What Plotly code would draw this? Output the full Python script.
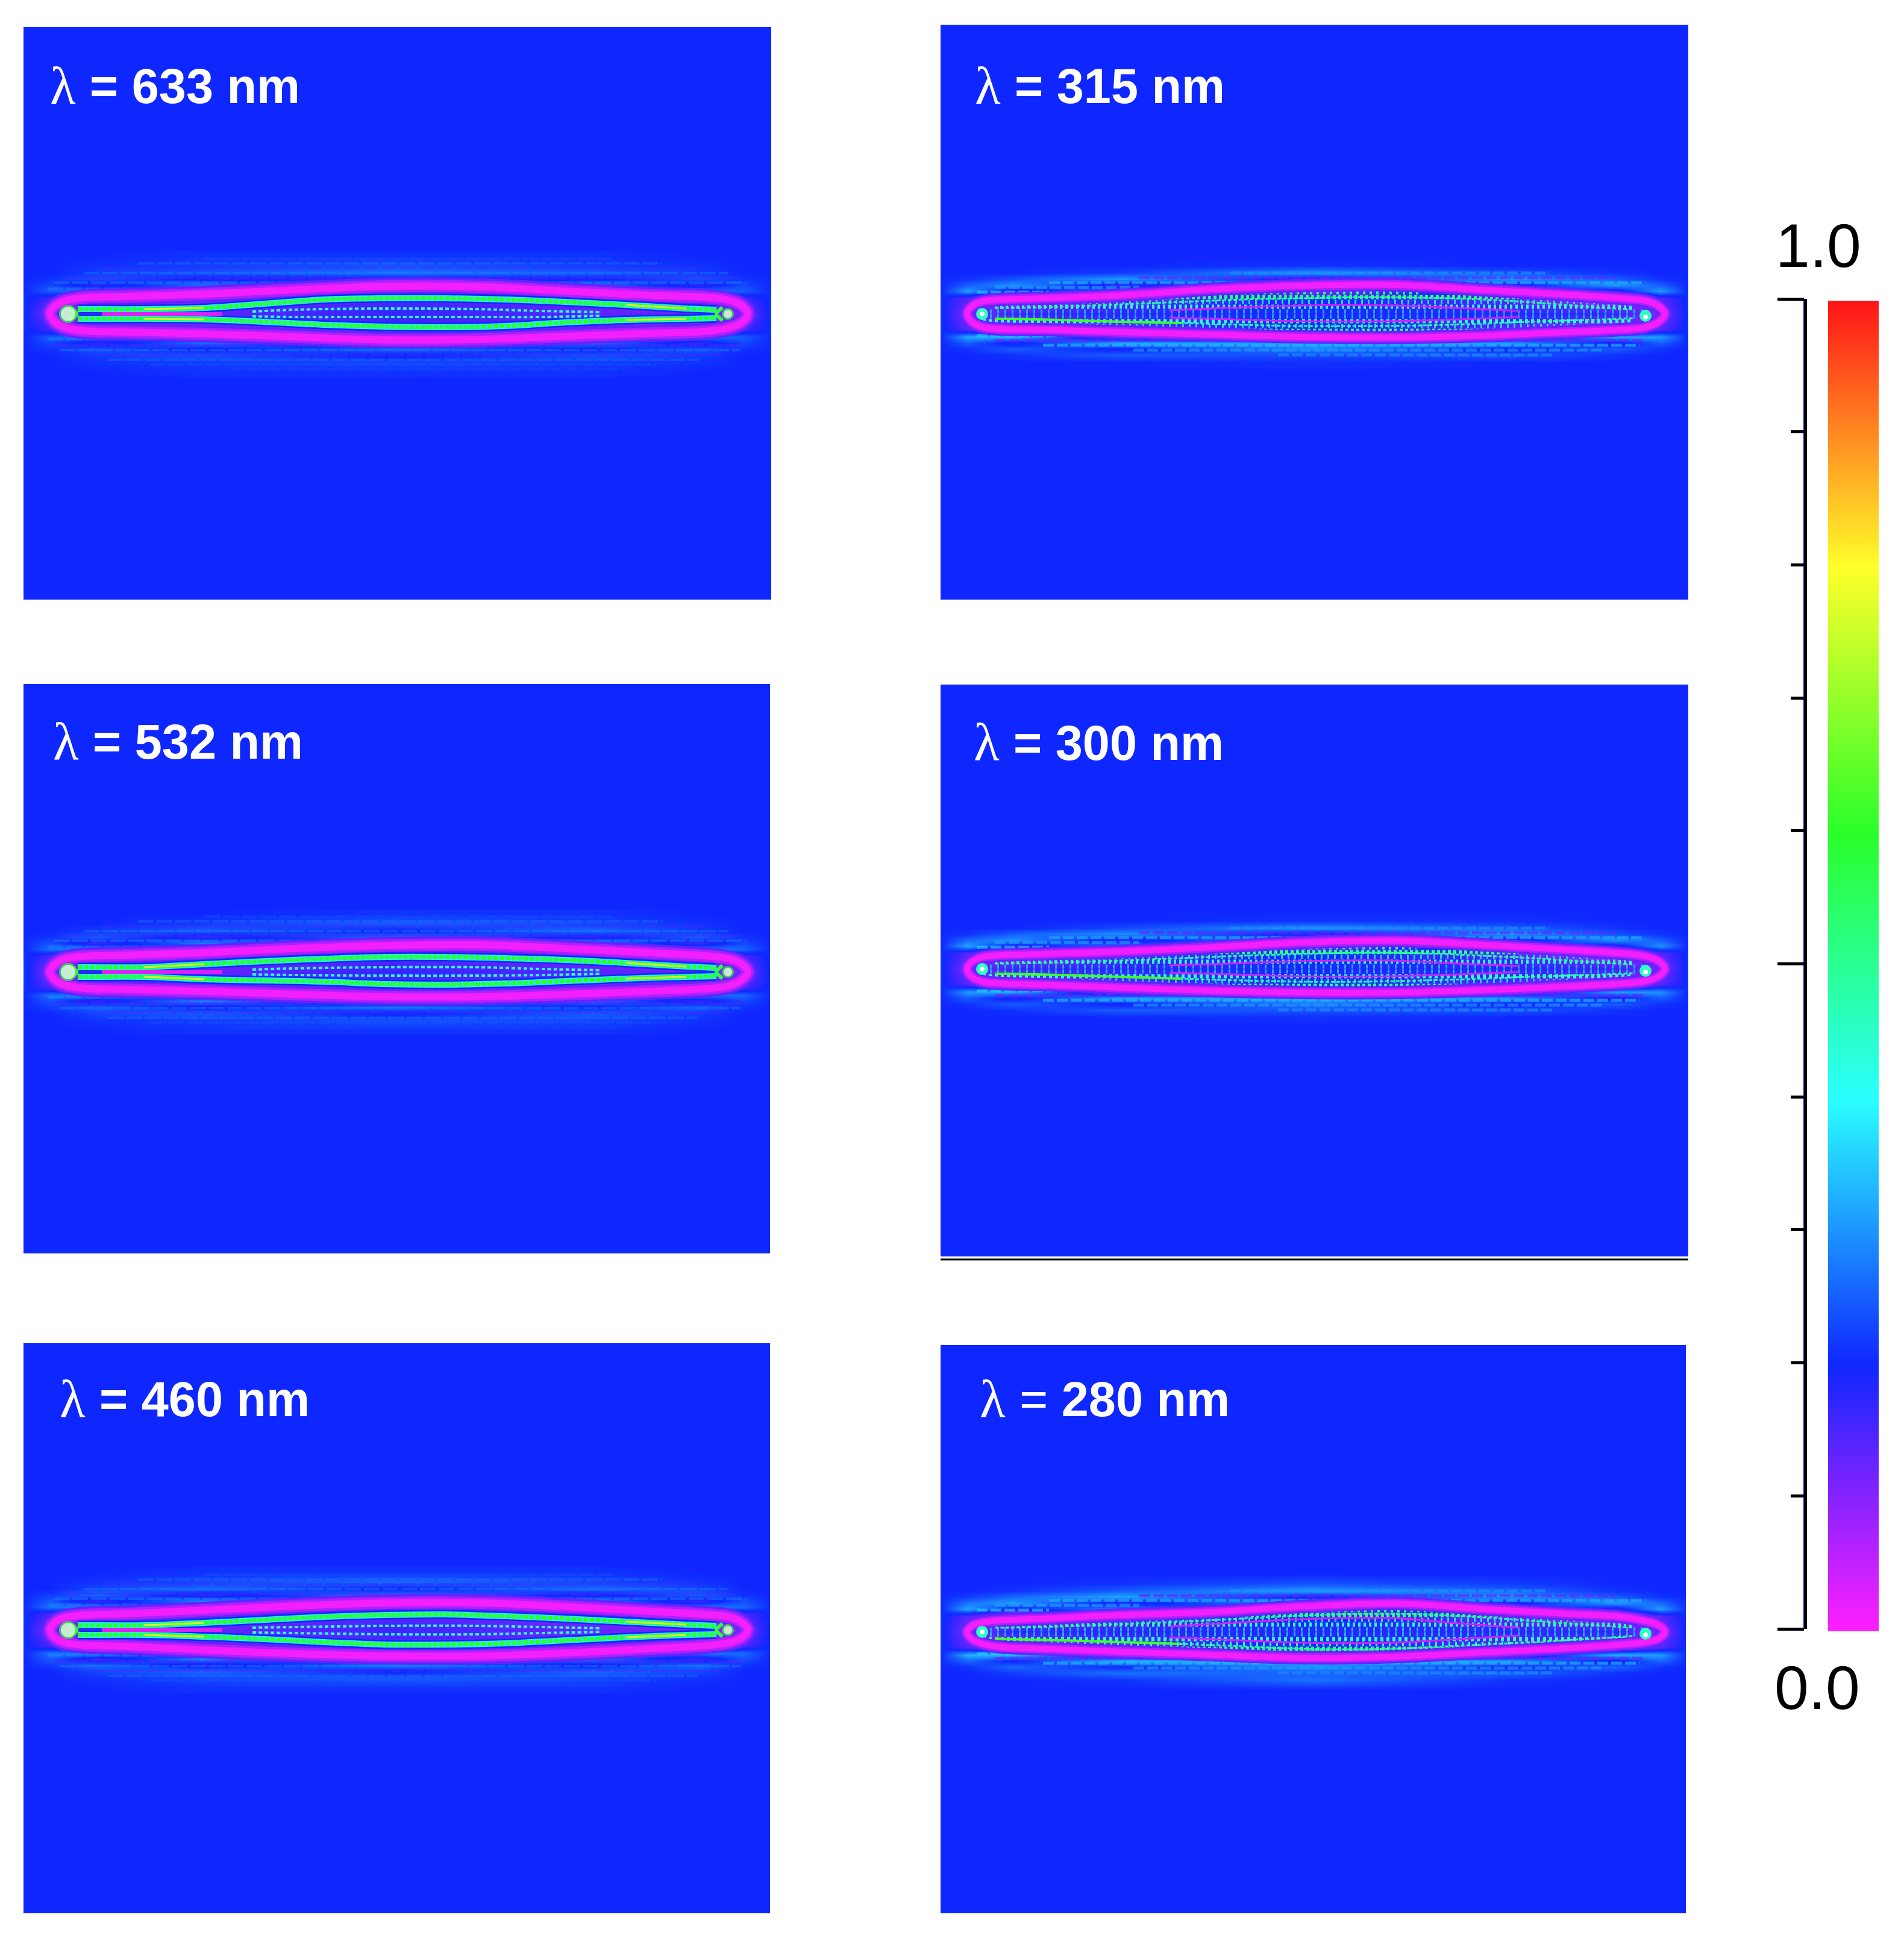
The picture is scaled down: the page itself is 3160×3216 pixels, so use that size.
import plotly.graph_objects as go
from plotly.colors import sample_colorscale

W, H = 3160, 3216

# colour scale
rainbow = [[0.0, 'rgb(255,31,255)'], [0.2, 'rgb(15,39,255)'], [0.4, 'rgb(42,255,255)'],
           [0.6, 'rgb(42,255,42)'], [0.8, 'rgb(255,255,42)'], [1.0, 'rgb(255,20,24)']]
bar_levels = [0.0, 0.1, 0.2, 0.3, 0.4, 0.5, 0.6, 0.7, 0.8, 0.9, 1.0]
bar_minor = [0.1, 0.2, 0.3, 0.4, 0.6, 0.7, 0.8, 0.9]
bar_major = [0.0, 0.5, 1.0]

# background field, rows run top to bottom
haze_x = [0, 45, 120, 300, 620, 940, 1120, 1195, 1241]
haze_y = [96, 80, 68, 58, 48, 38, 26, 0, -26, -38, -48, -58, -68, -80, -96]

haze_633 = [[.20, .20, .20, .21, .21, .21, .20, .20, .20],
            [.20, .20, .21, .22, .24, .22, .21, .20, .20],
            [.20, .20, .22, .24, .27, .25, .22, .20, .20],
            [.20, .21, .24, .19, .18, .19, .24, .21, .20],
            [.20, .23, .17, .27, .10, .27, .17, .23, .20],
            [.20, .25, .27, .12, .10, .12, .27, .25, .20],
            [.21, .16, .06, .10, .15, .12, .06, .16, .21],
            [.21, .10, .12, .14, .17, .14, .12, .10, .21],
            [.21, .16, .06, .10, .15, .12, .06, .16, .21],
            [.20, .25, .27, .13, .10, .13, .27, .25, .20],
            [.20, .23, .17, .27, .11, .27, .17, .23, .20],
            [.20, .21, .24, .19, .26, .19, .24, .21, .20],
            [.20, .20, .22, .24, .19, .24, .22, .20, .20],
            [.20, .20, .21, .22, .23, .22, .21, .20, .20],
            [.20, .20, .20, .21, .21, .21, .20, .20, .20]]
haze_532 = [[.20, .20, .20, .20, .21, .21, .20, .20, .20],
            [.20, .20, .20, .22, .25, .23, .21, .20, .20],
            [.20, .20, .22, .25, .19, .26, .22, .20, .20],
            [.20, .21, .25, .17, .27, .18, .25, .21, .20],
            [.20, .24, .16, .28, .09, .28, .16, .23, .20],
            [.20, .27, .28, .11, .09, .12, .28, .26, .20],
            [.21, .15, .05, .10, .14, .11, .06, .15, .21],
            [.22, .09, .12, .13, .17, .14, .12, .10, .21],
            [.21, .15, .05, .10, .14, .11, .06, .15, .21],
            [.20, .27, .28, .12, .09, .13, .27, .26, .20],
            [.20, .24, .17, .29, .10, .27, .17, .23, .20],
            [.20, .22, .25, .18, .27, .19, .25, .21, .20],
            [.20, .20, .23, .25, .19, .25, .22, .20, .20],
            [.20, .20, .21, .22, .24, .23, .21, .20, .20],
            [.20, .20, .20, .21, .21, .21, .20, .20, .20]]
haze_460 = [[.20, .20, .20, .21, .21, .21, .20, .20, .20],
            [.20, .20, .21, .23, .26, .23, .21, .20, .20],
            [.20, .20, .23, .26, .19, .26, .23, .20, .20],
            [.20, .22, .26, .17, .28, .18, .25, .21, .20],
            [.20, .25, .16, .29, .09, .28, .16, .24, .20],
            [.20, .27, .28, .11, .09, .11, .28, .26, .20],
            [.21, .15, .05, .10, .14, .10, .05, .15, .21],
            [.21, .09, .11, .13, .16, .13, .11, .09, .21],
            [.21, .15, .05, .10, .14, .10, .05, .15, .21],
            [.20, .27, .28, .11, .09, .12, .28, .26, .20],
            [.20, .25, .16, .29, .09, .28, .16, .24, .20],
            [.20, .22, .26, .17, .28, .18, .26, .21, .20],
            [.20, .20, .23, .26, .19, .26, .23, .20, .20],
            [.20, .20, .21, .23, .25, .23, .21, .20, .20],
            [.20, .20, .20, .21, .21, .21, .20, .20, .20]]
haze_315 = [[.20, .20, .20, .20, .20, .20, .20, .20, .20],
            [.20, .20, .20, .20, .21, .20, .20, .20, .20],
            [.20, .20, .20, .22, .30, .24, .21, .20, .20],
            [.20, .21, .24, .31, .17, .31, .25, .21, .20],
            [.20, .25, .30, .16, .30, .17, .31, .25, .20],
            [.20, .31, .16, .28, .09, .27, .17, .31, .20],
            [.21, .14, .05, .12, .20, .13, .05, .14, .21],
            [.21, .10, .17, .18, .19, .18, .17, .10, .21],
            [.21, .14, .05, .12, .20, .13, .05, .14, .21],
            [.20, .32, .33, .10, .09, .11, .32, .31, .20],
            [.20, .25, .18, .32, .30, .31, .18, .25, .20],
            [.20, .21, .25, .19, .29, .19, .25, .21, .20],
            [.20, .20, .21, .25, .23, .25, .21, .20, .20],
            [.20, .20, .20, .20, .21, .20, .20, .20, .20],
            [.20, .20, .20, .20, .20, .20, .20, .20, .20]]
haze_300 = [[.20, .20, .20, .20, .20, .20, .20, .20, .20],
            [.20, .20, .20, .20, .21, .21, .20, .20, .20],
            [.20, .20, .20, .23, .30, .25, .21, .20, .20],
            [.20, .21, .25, .30, .17, .31, .24, .21, .20],
            [.20, .26, .30, .17, .31, .16, .30, .25, .20],
            [.20, .32, .17, .28, .09, .28, .17, .30, .20],
            [.21, .14, .05, .13, .20, .14, .05, .14, .21],
            [.21, .10, .17, .18, .19, .18, .17, .10, .21],
            [.21, .14, .05, .13, .20, .14, .05, .14, .21],
            [.20, .31, .32, .10, .09, .11, .31, .30, .20],
            [.20, .25, .18, .31, .30, .30, .18, .25, .20],
            [.20, .21, .25, .19, .28, .19, .25, .21, .20],
            [.20, .20, .21, .25, .24, .24, .21, .20, .20],
            [.20, .20, .20, .20, .21, .20, .20, .20, .20],
            [.20, .20, .20, .20, .20, .20, .20, .20, .20]]
haze_280 = [[.20, .20, .20, .20, .20, .20, .20, .20, .20],
            [.20, .20, .20, .21, .24, .22, .20, .20, .20],
            [.20, .20, .21, .25, .31, .26, .21, .20, .20],
            [.20, .22, .26, .32, .18, .31, .25, .21, .20],
            [.20, .27, .31, .17, .31, .17, .31, .26, .20],
            [.20, .32, .18, .29, .09, .28, .17, .31, .20],
            [.21, .14, .05, .12, .20, .12, .05, .14, .21],
            [.21, .10, .18, .18, .18, .18, .18, .10, .21],
            [.21, .14, .05, .12, .20, .12, .05, .14, .21],
            [.20, .33, .34, .11, .09, .11, .33, .31, .20],
            [.20, .26, .19, .33, .31, .31, .18, .26, .20],
            [.20, .21, .26, .20, .30, .20, .26, .21, .20],
            [.20, .20, .22, .27, .25, .26, .21, .20, .20],
            [.20, .20, .20, .21, .27, .21, .20, .20, .20],
            [.20, .20, .20, .20, .20, .20, .20, .20, .20]]

# magenta ring, offsets above and below the long axis
ring_x = [44, 52, 70, 100, 170, 300, 450, 600, 760, 900, 1040, 1130, 1170, 1192, 1202]
ring_top_633 = [0, 13, 22, 27, 29, 33, 40, 46, 45, 38, 31, 28, 23, 14, 0]
ring_bot_633 = [0, -13, -23, -28, -30, -33, -38, -43, -42, -37, -32, -29, -23, -14, 0]
ring_top_532 = [0, 13, 22, 26, 28, 32, 39, 44, 45, 39, 32, 27, 22, 13, 0]
ring_bot_532 = [0, -13, -22, -27, -29, -32, -37, -41, -41, -37, -32, -28, -23, -13, 0]
ring_top_460 = [0, 13, 21, 25, 27, 33, 40, 45, 45, 39, 31, 26, 22, 13, 0]
ring_bot_460 = [0, -13, -21, -25, -27, -33, -39, -43, -43, -38, -31, -26, -21, -13, 0]
ring_top_315 = [0, 13, 21, 24, 26, 31, 41, 47, 48, 40, 32, 26, 22, 13, 0]
ring_bot_315 = [0, -13, -22, -25, -26, -30, -34, -38, -39, -36, -30, -26, -22, -13, 0]
ring_top_300 = [0, 12, 20, 23, 25, 29, 36, 44, 47, 40, 32, 26, 21, 13, 0]
ring_bot_300 = [0, -13, -21, -24, -26, -31, -36, -39, -39, -35, -29, -24, -20, -12, 0]
ring_top_280 = [0, 10, 16, 19, 22, 28, 33, 42, 47, 38, 30, 25, 18, 11, 0]
ring_bot_280 = [0, -12, -20, -25, -28, -33, -38, -43, -41, -34, -27, -21, -17, -11, 0]

# bright inner lines
inner_x = [90, 110, 200, 300, 400, 500, 600, 700, 800, 900, 1000, 1100, 1150]
inner_top_633 = [8, 8, 8, 10, 17, 24, 26, 26, 24, 20, 15, 9, 7]
inner_bot_633 = [-8, -8, -8, -9, -13, -18, -21, -22, -20, -14, -10, -8, -7]
inner_top_532 = [8, 8, 8, 13, 18, 22, 25, 25, 23, 20, 15, 9, 7]
inner_bot_532 = [-8, -8, -8, -12, -14, -16, -20, -21, -19, -15, -11, -8, -7]
inner_top_460 = [8, 8, 8, 12, 17, 22, 25, 26, 23, 19, 14, 9, 7]
inner_bot_460 = [-8, -8, -8, -11, -15, -20, -24, -24, -22, -17, -12, -8, -7]
inner_top_315 = [10, 10, 12, 16, 20, 24, 26, 28, 27, 24, 18, 10, 8]
inner_bot_315 = [-8, -8, -10, -13, -15, -18, -20, -20, -19, -16, -12, -9, -7]
inner_top_300 = [9, 9, 11, 14, 18, 22, 25, 27, 26, 22, 17, 10, 8]
inner_bot_300 = [-8, -8, -10, -13, -16, -19, -21, -21, -19, -16, -12, -9, -7]
inner_top_280 = [7, 7, 9, 13, 17, 22, 27, 30, 29, 24, 17, 10, 7]
inner_bot_280 = [-11, -12, -14, -17, -20, -24, -28, -29, -26, -21, -16, -10, -7]

# forked ends of the inner lines
fork_left_x = [76, 90]
fork_right_x = [1160, 1148]
fork_y = [11, 0]

# weaker lines down the middle
mid_x = [380, 450, 600, 750, 860, 960]
mid_top_633 = [4, 7, 9, 8, 5, 3]
mid_bot_633 = [-4, -5, -5, -5, -5, -3]
mid_top_532 = [4, 6, 8, 8, 5, 3]
mid_bot_532 = [-4, -5, -6, -6, -5, -3]
mid_top_460 = [4, 5, 7, 7, 5, 3]
mid_bot_460 = [-4, -5, -7, -7, -5, -3]
mid_top_315 = [6, 9, 14, 14, 10, 5]
mid_bot_315 = [-6, -8, -12, -12, -9, -5]
mid_top_300 = [6, 8, 13, 14, 9, 5]
mid_bot_300 = [-6, -8, -12, -12, -9, -5]
mid_top_280 = [9, 13, 21, 23, 14, 7]
mid_bot_280 = [-9, -12, -18, -18, -12, -6]

# faint streaks outside the ring
streak_y = [92, 84, 76, 68, 60, 52, 42, -42, -52, -60, -68, -76, -84, -92]
streak_start = [300, 190, 130, 100, 70, 50, 40, 40, 50, 60, 110, 140, 210, 340]
streak_end = [980, 1060, 1130, 1170, 1190, 1200, 280, 300, 1200, 1190, 1160, 1120, 1050, 1000]
streak_level = [.24, .27, .15, .28, .14, .29, .29, .30, .14, .28, .15, .27, .24, .23]
streak_short_y = [68, 60, 52, 44, 36, -36, -44, -52, -60, -68]
streak_short_start = [480, 330, 180, 90, 60, 60, 90, 170, 320, 560]
streak_short_end = [1010, 1120, 1170, 330, 180, 250, 1170, 1160, 1100, 1020]
streak_short_level = [.30, .13, .33, .32, .36, .36, .13, .34, .31, .30]

# dotted rows seen in the short wavelength panels
dots_y = [36, 28, 20, 12, 4, -4, -12, -20, -28, -34]
dots_gap = ['4px,7px', '5px,4px', '3px,8px', '4px,5px', '3px,9px', '3px,9px', '5px,5px', '3px,8px', '5px,4px', '4px,6px']
dots_start_315 = [470, 300, 170, 90, 70, 70, 70, 170, 330, 480]
dots_end_315 = [800, 960, 1090, 1150, 1170, 1170, 1150, 1060, 920, 780]
dots_level_315 = [.50, .52, .36, .42, .32, .32, .42, .35, .52, .54]
dots_start_300 = [480, 320, 180, 90, 70, 70, 70, 180, 340, 480]
dots_end_300 = [790, 960, 1080, 1150, 1170, 1170, 1150, 1050, 910, 770]
dots_level_300 = [.48, .50, .35, .44, .32, .32, .43, .35, .50, .52]
dots_start_280 = [450, 290, 170, 90, 70, 70, 70, 150, 300, 440]
dots_end_280 = [860, 970, 1080, 1150, 1170, 1170, 1150, 1060, 980, 860]
dots_level_280 = [.52, .52, .37, .46, .33, .33, .46, .40, .52, .56]

spot_x_big = [74, 1169]
spot_x_small = [69, 1170]

labels = ['633', '532', '460', '315', '300', '280']

# left, right, top, bottom, long axis, label x, label y in page pixels
boxes = [(39, 1280, 45, 995, 521, 81, 143),
         (39, 1278, 1135, 2080, 1613, 86, 1231),
         (39, 1278, 2229, 3175, 2705, 97, 2322),
         (1561, 2802, 41, 995, 521, 1616, 143),
         (1561, 2802, 1136, 2085, 1608, 1614, 1233),
         (1561, 2798, 2232, 3175, 2708, 1624, 2322)]

hazes = [haze_633, haze_532, haze_460, haze_315, haze_300, haze_280]
ring_tops = [ring_top_633, ring_top_532, ring_top_460, ring_top_315, ring_top_300, ring_top_280]
ring_bots = [ring_bot_633, ring_bot_532, ring_bot_460, ring_bot_315, ring_bot_300, ring_bot_280]
inner_tops = [inner_top_633, inner_top_532, inner_top_460, inner_top_315, inner_top_300, inner_top_280]
inner_bots = [inner_bot_633, inner_bot_532, inner_bot_460, inner_bot_315, inner_bot_300, inner_bot_280]
mid_tops = [mid_top_633, mid_top_532, mid_top_460, mid_top_315, mid_top_300, mid_top_280]
mid_bots = [mid_bot_633, mid_bot_532, mid_bot_460, mid_bot_315, mid_bot_300, mid_bot_280]
dots = {3: (dots_start_315, dots_end_315, dots_level_315),
        4: (dots_start_300, dots_end_300, dots_level_300),
        5: (dots_start_280, dots_end_280, dots_level_280)}

fig = go.Figure()


def add_line(n, x, y, level, width, dash='solid', opacity=1.0):
    color = sample_colorscale(rainbow, [level])[0]
    fig.add_trace(go.Scatter(x=x, y=y, mode='lines', xaxis=f'x{n}', yaxis=f'y{n}',
                             line=dict(color=color, width=width, dash=dash, shape='spline', smoothing=1.0),
                             opacity=opacity, hoverinfo='skip', showlegend=False))


def add_spot(n, x, y, color, size):
    fig.add_trace(go.Scatter(x=x, y=y, mode='markers', xaxis=f'x{n}', yaxis=f'y{n}',
                             marker=dict(color=color, size=size, line=dict(width=0)),
                             hoverinfo='skip', showlegend=False))


layout_axes = {}
annotations = []

for i, (left, right, top, bottom, axis_y, label_x, label_y) in enumerate(boxes):
    n = i + 1
    layout_axes[f'xaxis{n}'] = dict(domain=[left / W, right / W], range=[0, right - left],
                                    visible=False, anchor=f'y{n}')
    layout_axes[f'yaxis{n}'] = dict(domain=[1 - bottom / H, 1 - top / H], range=[axis_y - bottom, axis_y - top],
                                    visible=False, anchor=f'x{n}')

    fig.add_trace(go.Heatmap(x=haze_x, y=haze_y[::-1], z=hazes[i][::-1], xaxis=f'x{n}', yaxis=f'y{n}',
                             colorscale=rainbow, zmin=0, zmax=1, zsmooth='best', showscale=False,
                             hoverinfo='skip'))

    if i < 3:
        for y, x0, x1, lv in zip(streak_y, streak_start, streak_end, streak_level):
            add_line(n, [x0, x1], [y, y], lv, 4, dash='26px,5px', opacity=0.4)
    else:
        for y, x0, x1, lv in zip(streak_short_y, streak_short_start, streak_short_end, streak_short_level):
            add_line(n, [x0, x1], [y, y], lv, 5, dash='18px,5px', opacity=0.6)
        starts, ends, levels = dots[i]
        for y, x0, x1, lv, gap in zip(dots_y, starts, ends, levels, dots_gap):
            add_line(n, [x0, x1], [y, y], lv, 7, dash=gap)

    # ring, drawn as one closed path
    ring_path_x = ring_x + ring_x[::-1][1:]
    ring_path_y = ring_tops[i] + ring_bots[i][::-1][1:]
    if i < 3:
        add_line(n, ring_path_x, ring_path_y, 0.13, 28)
        add_line(n, ring_path_x, ring_path_y, 0.07, 20)
        add_line(n, ring_path_x, ring_path_y, 0.01, 12)
    else:
        add_line(n, ring_path_x, ring_path_y, 0.13, 22)
        add_line(n, ring_path_x, ring_path_y, 0.07, 16)
        add_line(n, ring_path_x, ring_path_y, 0.01, 10)

    if i < 3:
        for inner in (inner_tops[i], inner_bots[i]):
            add_line(n, inner_x, inner, 0.2, 15)
            add_line(n, inner_x, inner, 0.38, 10)
            add_line(n, inner_x, inner, 0.6, 7, dash='8px,2px')
            add_line(n, inner_x[2:4], inner[2:4], 0.76, 3)
            add_line(n, inner_x[10:12], inner[10:12], 0.76, 3)
        for mid in (mid_tops[i], mid_bots[i]):
            add_line(n, mid_x, mid, 0.4, 4, dash='6px,4px')
        add_line(n, [130, 200, 330], [0, 0, 0], 0.03, 6)
        for sign in (1, -1):
            add_line(n, fork_left_x, [sign * v for v in fork_y], 0.58, 6)
            add_line(n, fork_right_x, [sign * v for v in fork_y], 0.58, 6)
        add_spot(n, spot_x_big, [0, 0], 'rgb(42,255,42)', [30, 20])
        add_spot(n, spot_x_big, [0, 0], 'white', [24, 14])
    else:
        for inner in (inner_tops[i], inner_bots[i]):
            add_line(n, inner_x, inner, 0.5, 3, dash='6px,3px')
        add_line(n, inner_x[:5], inner_bots[i][:5], 0.62, 4)
        for mid in (mid_tops[i], mid_bots[i]):
            add_line(n, mid_x, mid, 0.04, 3)
        add_spot(n, spot_x_small, [0, -3], 'rgb(42,255,190)', 20)
        add_spot(n, spot_x_small, [0, -5], 'white', 8)

    annotations.append(dict(x=label_x / W, y=1 - label_y / H, xref='paper', yref='paper', xanchor='left',
                            yanchor='middle', showarrow=False, text='λ',
                            font=dict(family='Liberation Serif', size=88, color='white')))
    rest = f'= <b>{labels[i]} nm</b>' if i == 5 else f'<b>= {labels[i]} nm</b>'
    annotations.append(dict(x=(label_x + 66) / W, y=1 - label_y / H, xref='paper', yref='paper', xanchor='left',
                            yanchor='middle', showarrow=False, text=rest,
                            font=dict(family='Liberation Sans', size=81, color='white')))

# colour bar
fig.add_trace(go.Heatmap(x=[0, 1], y=bar_levels, z=[[v, v] for v in bar_levels], xaxis='x7', yaxis='y7',
                         colorscale=rainbow, zmin=0, zmax=1, zsmooth='best', showscale=False, hoverinfo='skip'))
layout_axes['xaxis7'] = dict(domain=[3034 / W, 3118 / W], range=[0, 1], visible=False, anchor='y7')
layout_axes['yaxis7'] = dict(domain=[1 - 2707 / H, 1 - 499 / H], range=[0, 1], visible=False, anchor='x7')

# scale beside the bar, its subplot strip stays hidden under the axis line
fig.add_trace(go.Scatter(x=[0, 0], y=[0, 1], mode='lines', xaxis='x8', yaxis='y8', line=dict(width=0),
                         hoverinfo='skip', showlegend=False))
layout_axes['xaxis8'] = dict(domain=[2993 / W, 2994 / W], range=[0, 1], visible=False, anchor='free', position=0)
layout_axes['yaxis8'] = dict(domain=[1 - 2703 / H, 1 - 496 / H], range=[0, 1], anchor='free', position=2996 / W,
                             side='left', showgrid=False, zeroline=False, showline=True, linecolor='black',
                             linewidth=5, showticklabels=False,
                             tickmode='array', tickvals=bar_major, ticks='outside', ticklen=44, tickwidth=5,
                             tickcolor='black',
                             minor=dict(tickmode='array', tickvals=bar_minor, ticks='outside', ticklen=22,
                                        tickwidth=5, tickcolor='black'))

for text, cx, cy in [('1.0', 3018, 408), ('0.0', 3016, 2801)]:
    annotations.append(dict(x=cx / W, y=1 - cy / H, xref='paper', yref='paper', xanchor='center', yanchor='middle',
                            showarrow=False, text=text,
                            font=dict(family='Liberation Sans', size=102, color='black')))

fig.update_layout(width=W, height=H, margin=dict(l=0, r=0, t=0, b=0), paper_bgcolor='white',
                  plot_bgcolor='rgb(15,39,255)', annotations=annotations, **layout_axes,
                  shapes=[dict(type='line', xref='paper', yref='paper', x0=1561 / W, x1=2802 / W,
                               y0=1 - 2090 / H, y1=1 - 2090 / H, line=dict(color='black', width=3))])

fig.write_html("out.html", config=dict(displayModeBar=False), post_script="document.body.style.margin='0';")
